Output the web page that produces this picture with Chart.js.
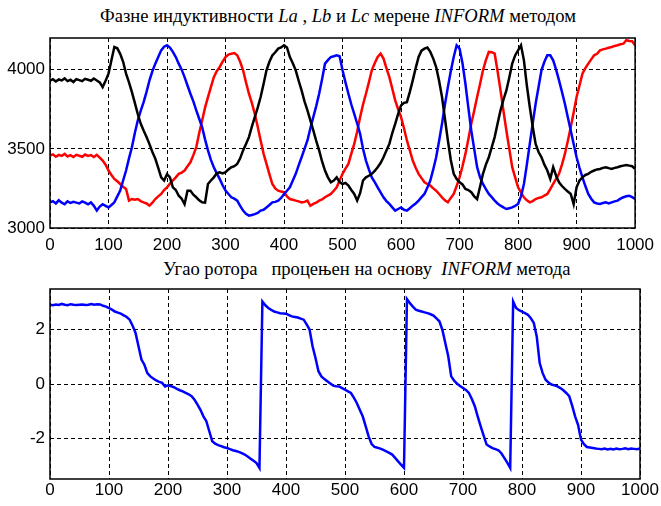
<!DOCTYPE html>
<html>
<head>
<meta charset="utf-8">
<script src="https://cdn.jsdelivr.net/npm/chart.js@4"></script>
<style>
  body { margin: 0; background: #fff; }
  #wrap { position: relative; width: 661px; height: 506px; }
  canvas { position: absolute; left: 0; }
  .title { position: absolute; font: 18.6px "Liberation Serif", serif; line-height: 19px; white-space: pre; color: #000; }
</style>
</head>
<body>
<div id="wrap">
  <div class="title" style="left:100px; top:6px">Фазне индуктивности <i>La</i> , <i>Lb</i> и <i>Lc</i> мерене <i>INFORM</i> методом</div>
  <canvas id="inductance" width="661" height="252" style="top:0"></canvas>
  <div class="title" style="left:163px; top:259px">Угао ротора   процењен на основу  <i>INFORM</i> метода</div>
  <canvas id="angle" width="661" height="254" style="top:252px"></canvas>
</div>
<script>
// sample index, one value every 5 samples (0..1000)
const samples = Array.from({ length: 201 }, (_, i) => i * 5);
const xTicks = [0, 100, 200, 300, 400, 500, 600, 700, 800, 900, 1000];
const lTicks = [3000, 3500, 4000];
const angleTicks = [-2, 0, 2];

// phase inductances (black, blue, red)
const blackL = [
  3930, 3940, 3925, 3938, 3932, 3945, 3928, 3936, 3922, 3940,
  3934, 3928, 3942, 3936, 3930, 3944, 3932, 3920, 3890, 3930,
  3975, 4060, 4143, 4135, 4100, 4050, 3975, 3920, 3858, 3790,
  3720, 3660, 3616, 3575, 3530, 3480, 3437, 3380, 3320, 3300,
  3340, 3320, 3257, 3240, 3204, 3185, 3150, 3236, 3236, 3210,
  3194, 3175, 3162, 3160, 3278, 3300, 3320, 3345, 3352, 3345,
  3352, 3370, 3384, 3390, 3405, 3440, 3490, 3530, 3574, 3640,
  3700, 3760, 3827, 3910, 3996, 4050, 4090, 4110, 4133, 4140,
  4154, 4140, 4080, 4040, 3996, 3930, 3869, 3800, 3743, 3680,
  3616, 3550, 3490, 3420, 3363, 3320, 3289, 3300, 3320, 3290,
  3278, 3285, 3268, 3240, 3215, 3173, 3220, 3300, 3320, 3330,
  3342, 3360, 3384, 3410, 3447, 3490, 3531, 3600, 3658, 3720,
  3774, 3790, 3795, 3860, 3932, 4010, 4080, 4120, 4133, 4140,
  4112, 4070, 4017, 3930, 3827, 3690, 3553, 3430, 3342, 3310,
  3289, 3275, 3247, 3240, 3226, 3200, 3183, 3260, 3342, 3400,
  3447, 3510, 3574, 3660, 3743, 3810, 3869, 3950, 4038, 4090,
  4122, 4154, 4059, 3900, 3764, 3640, 3531, 3480, 3447, 3400,
  3363, 3310, 3384, 3330, 3289, 3265, 3247, 3230, 3215, 3150,
  3257, 3300, 3320, 3335, 3342, 3355, 3363, 3370, 3373, 3380,
  3384, 3378, 3373, 3380, 3384, 3390, 3394, 3398, 3394, 3390,
  3373
];
const blueL = [
  3162, 3170, 3155, 3175, 3160, 3150, 3168, 3158, 3165, 3160,
  3155, 3168, 3160, 3150, 3162, 3140, 3110, 3135, 3150, 3140,
  3130, 3145, 3162, 3200, 3236, 3300, 3363, 3440, 3510, 3600,
  3679, 3740, 3795, 3860, 3932, 3990, 4038, 4080, 4122, 4145,
  4154, 4140, 4112, 4080, 4038, 4000, 3953, 3900, 3848, 3800,
  3743, 3690, 3637, 3560, 3490, 3430, 3384, 3345, 3310, 3270,
  3236, 3215, 3194, 3185, 3173, 3140, 3110, 3090, 3078, 3082,
  3088, 3095, 3110, 3115, 3130, 3145, 3162, 3165, 3173, 3190,
  3215, 3235, 3257, 3300, 3342, 3395, 3447, 3500, 3553, 3630,
  3700, 3770, 3848, 3940, 4038, 4060, 4080, 4085, 4091, 4085,
  3996, 3920, 3848, 3780, 3721, 3660, 3595, 3500, 3426, 3370,
  3320, 3290, 3257, 3225, 3194, 3170, 3152, 3130, 3110, 3120,
  3130, 3115, 3110, 3125, 3141, 3155, 3173, 3195, 3215, 3255,
  3300, 3370, 3447, 3550, 3658, 3780, 3890, 3990, 4080, 4154,
  4133, 4040, 3911, 3760, 3616, 3500, 3384, 3320, 3278, 3245,
  3215, 3195, 3173, 3155, 3141, 3130, 3120, 3125, 3130, 3140,
  3152, 3200, 3278, 3400, 3531, 3660, 3785, 3890, 3996, 4050,
  4091, 4091, 4059, 4000, 3932, 3860, 3785, 3700, 3616, 3530,
  3447, 3380, 3320, 3265, 3215, 3185, 3162, 3155, 3152, 3158,
  3162, 3155, 3162, 3168, 3173, 3185, 3194, 3200, 3204, 3195,
  3183
];
const redL = [
  3458, 3465, 3450, 3462, 3455, 3468, 3452, 3460, 3448, 3462,
  3456, 3450, 3464, 3455, 3460, 3448, 3462, 3445, 3426, 3400,
  3363, 3335, 3310, 3295, 3278, 3260, 3247, 3173, 3183, 3178,
  3183, 3170, 3162, 3155, 3141, 3160, 3183, 3200, 3215, 3240,
  3257, 3280, 3300, 3320, 3342, 3350, 3363, 3390, 3415, 3460,
  3510, 3600, 3679, 3760, 3827, 3890, 3953, 3990, 4017, 4050,
  4080, 4095, 4101, 4105, 4091, 4050, 3996, 3920, 3848, 3790,
  3721, 3640, 3553, 3470, 3405, 3340, 3278, 3250, 3236, 3230,
  3226, 3200, 3183, 3178, 3173, 3168, 3162, 3165, 3173, 3140,
  3152, 3160, 3173, 3180, 3194, 3205, 3215, 3235, 3257, 3300,
  3342, 3375, 3405, 3470, 3531, 3610, 3700, 3780, 3848, 3920,
  3996, 4040, 4080, 4101, 4070, 4010, 3953, 3880, 3806, 3750,
  3700, 3630, 3553, 3490, 3426, 3380, 3342, 3315, 3289, 3278,
  3268, 3250, 3236, 3215, 3194, 3175, 3162, 3190, 3215, 3265,
  3320, 3390, 3468, 3560, 3658, 3740, 3827, 3910, 3996, 4060,
  4112, 4110, 4101, 3990, 3869, 3740, 3616, 3500, 3384, 3320,
  3257, 3225, 3194, 3175, 3162, 3170, 3183, 3190, 3194, 3205,
  3215, 3245, 3278, 3310, 3342, 3400, 3468, 3550, 3637, 3730,
  3827, 3900, 3975, 4010, 4038, 4065, 4091, 4100, 4122, 4128,
  4133, 4138, 4143, 4150, 4154, 4160, 4164, 4186, 4181, 4180,
  4154
];

// estimated rotor angle (rad)
const rotorAngle = [
  2.92, 2.90, 2.93, 2.91, 2.95, 2.92, 2.90, 2.94, 2.92, 2.91,
  2.92, 2.93, 2.91, 2.92, 2.95, 2.92, 2.94, 2.93, 2.88, 2.85,
  2.80, 2.74, 2.67, 2.63, 2.59, 2.53, 2.47, 2.37, 2.15, 1.88,
  1.39, 0.90, 0.71, 0.40, 0.28, 0.20, 0.13, 0.08, 0.04, -0.09,
  -0.05, -0.08, -0.12, -0.18, -0.23, -0.27, -0.33, -0.38, -0.45, -0.58,
  -0.76, -0.95, -1.19, -1.37, -1.74, -2.11, -2.20, -2.25, -2.29, -2.33,
  -2.36, -2.40, -2.44, -2.47, -2.50, -2.55, -2.60, -2.67, -2.75, -2.83,
  -2.91, -3.09, 3.04, 2.90, 2.80, 2.73, 2.67, 2.64, 2.61, 2.60,
  2.59, 2.54, 2.49, 2.47, 2.45, 2.41, 2.37, 2.20, 2.00, 1.39,
  0.96, 0.47, 0.28, 0.18, 0.10, 0.02, -0.06, -0.08, -0.09, -0.15,
  -0.21, -0.27, -0.33, -0.50, -0.70, -0.95, -1.19, -1.55, -1.93, -2.20,
  -2.32, -2.35, -2.38, -2.43, -2.48, -2.54, -2.60, -2.72, -2.85, -2.97,
  -3.09, 3.13, 2.98, 2.85, 2.74, 2.70, 2.67, 2.64, 2.61, 2.57,
  2.52, 2.42, 2.31, 2.00, 1.51, 1.02, 0.28, 0.12, 0.01, -0.07,
  -0.15, -0.22, -0.33, -0.55, -0.82, -1.20, -1.56, -1.90, -2.23, -2.30,
  -2.36, -2.40, -2.44, -2.55, -2.72, -2.90, -3.09, 3.04, 2.80, 2.72,
  2.67, 2.61, 2.55, 2.42, 2.25, 1.75, 0.77, 0.40, 0.16, 0.05,
  -0.02, -0.05, -0.09, -0.15, -0.23, -0.33, -0.45, -0.80, -1.19, -1.50,
  -2.05, -2.22, -2.32, -2.34, -2.36, -2.38, -2.39, -2.40, -2.38, -2.41,
  -2.39, -2.41, -2.38, -2.40, -2.39, -2.37, -2.40, -2.38, -2.39, -2.40,
  -2.38
];

Chart.defaults.font.family = '"Liberation Sans", Arial, sans-serif';
Chart.defaults.font.size = 17;
Chart.defaults.color = '#000';

// black box round the plot area
const frame = {
  id: 'frame',
  afterDatasetsDraw(chart) {
    const { ctx, chartArea: a } = chart;
    ctx.save();
    ctx.strokeStyle = '#000';
    ctx.lineWidth = 1.5;
    ctx.strokeRect(a.left, a.top, a.right - a.left, a.bottom - a.top);
    ctx.restore();
  }
};

function line(data, color) {
  return { data: data, borderColor: color, borderWidth: 2.5, pointRadius: 0, tension: 0, fill: false };
}

function options(yMin, yMax, yTicks, top, xHeight, xPad) {
  const grid = { color: '#000', lineWidth: 1, drawTicks: false };
  return {
    responsive: false,
    animation: false,
    devicePixelRatio: 1,
    layout: { padding: { left: 0, right: 21, top: top, bottom: 0 } },
    plugins: { legend: { display: false }, tooltip: { enabled: false } },
    scales: {
      x: {
        type: 'linear', min: 0, max: 1000,
        afterBuildTicks: s => { s.ticks = xTicks.map(v => ({ value: v })); },
        afterFit: s => { s.height = xHeight; },
        grid: grid,
        border: { display: false, dash: [4, 3] },
        ticks: { padding: xPad, maxRotation: 0, callback: v => String(v) }
      },
      y: {
        min: yMin, max: yMax,
        afterBuildTicks: s => { s.ticks = yTicks.map(v => ({ value: v })); },
        afterFit: s => { s.width = 50; },
        grid: grid,
        border: { display: false, dash: [4, 3] },
        ticks: { padding: 5, callback: v => String(v) }
      }
    }
  };
}

new Chart(document.getElementById('inductance'), {
  type: 'line',
  data: {
    labels: samples,
    datasets: [line(blackL, '#000000'), line(blueL, '#0000ff'), line(redL, '#ff0000')]
  },
  options: options(3000, 4200, lTicks, 38, 24, 7),
  plugins: [frame]
});

new Chart(document.getElementById('angle'), {
  type: 'line',
  data: {
    labels: samples,
    datasets: [line(rotorAngle, '#0000ff')]
  },
  options: options(-3.5, 3.5, angleTicks, 37, 27, 1),
  plugins: [frame]
});
</script>
</body>
</html>
